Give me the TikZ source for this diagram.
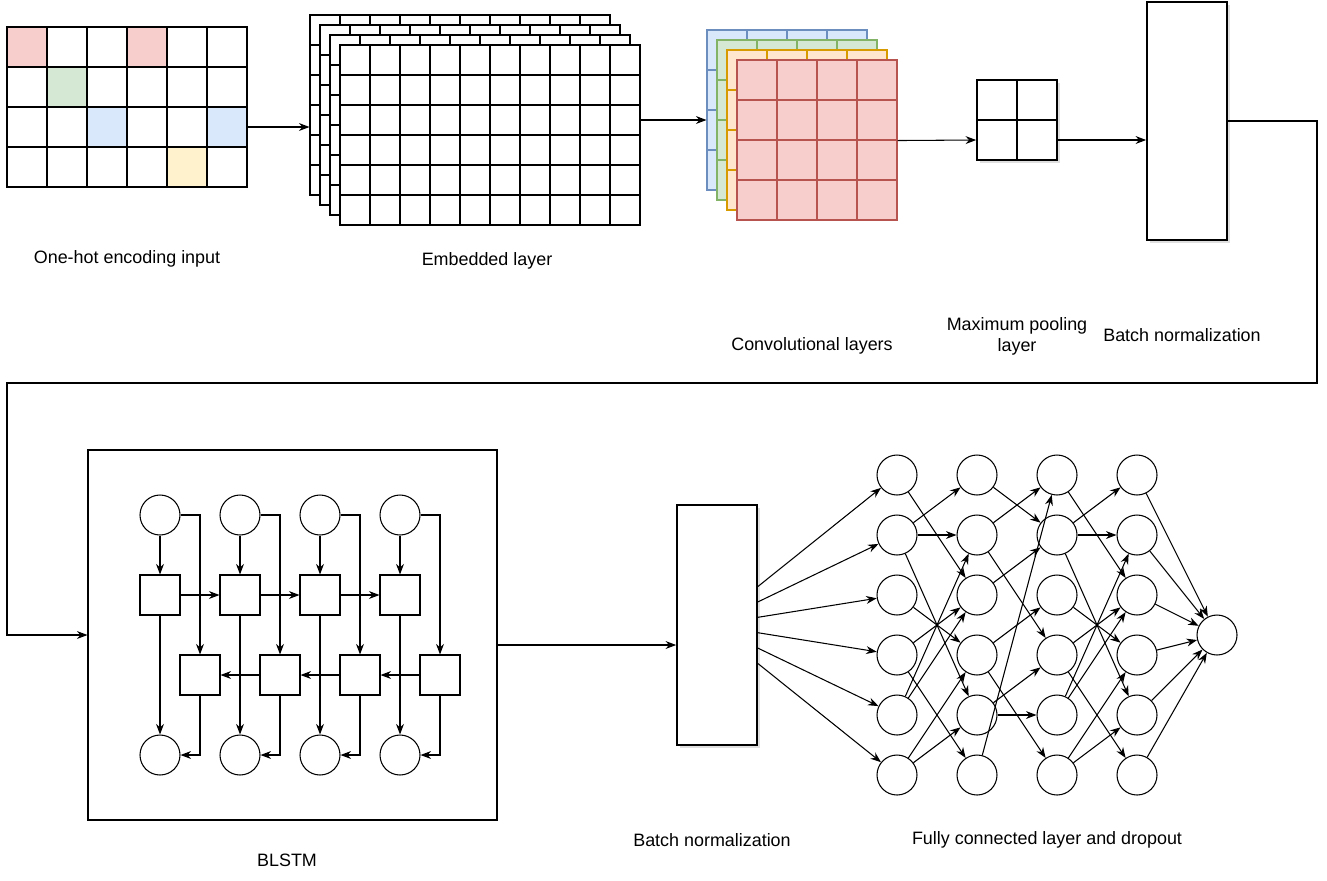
\documentclass[tikz,border=0pt]{standalone}
\usepackage{fontspec}
\setmainfont{Liberation Sans}
\usetikzlibrary{arrows.meta,shadows}
\definecolor{pinkfill}{HTML}{F8CECC}
\definecolor{greenfill}{HTML}{D5E8D4}
\definecolor{bluefill}{HTML}{DAE8FC}
\definecolor{yellowfill}{HTML}{FFF2CC}
\definecolor{orangefill}{HTML}{FFE6CC}
\definecolor{redline}{HTML}{B85450}
\definecolor{greenline}{HTML}{82B366}
\definecolor{blueline}{HTML}{6C8EBF}
\definecolor{orangeline}{HTML}{D79B00}
\def\px{0.02cm}

\begin{document}
\begin{tikzpicture}[x=\px, y=-\px,
        every node/.style={font=\fontsize{10.2}{12}\selectfont},
        cell/.style={draw, fill=white, inner sep=0pt, minimum size=#1*\px, line width=0.6pt},
        link/.style={-{Stealth[length=6pt,width=4.5pt]}, line width=0.6pt},
        neuron/.style={circle, draw, fill=white, inner sep=0pt, minimum size=40*\px, line width=0.6pt},
        unit/.style={draw, fill=white, inner sep=0pt, minimum size=40*\px, line width=0.6pt},
        sketchy/.style={draw, fill=white, inner sep=0pt, line width=1pt,
            drop shadow={shadow xshift=1.6pt, shadow yshift=-1.6pt, fill=black!25}},
        label/.style={align=center, inner sep=0pt},
        % coloured cells of the one-hot input
        hot11/.style={fill=pinkfill}, hot14/.style={fill=pinkfill},
        hot22/.style={fill=greenfill}, hot33/.style={fill=bluefill},
        hot36/.style={fill=bluefill}, hot45/.style={fill=yellowfill}]

        \useasboundingbox (0,0) rectangle (1327,880);

        % one-hot input: 4 rows of 6 cells, the coloured ones get a style of their own
        \foreach \row in {1,...,4} {
            \foreach \col in {1,...,6} {
                \node[cell=40, hot\row\col/.try] (oh-\row-\col) at (40*\col-13, 40*\row+7) {};
            }
        }

        % embedded layer: four stacked sheets, the back one first
        \foreach \k in {0,...,3} {
            \foreach \row in {1,...,6} {
                \foreach \col in {1,...,10} {
                    \node[cell=30] (emb\k-\row-\col) at (295+10*\k+30*\col, 10*\k+30*\row) {};
                }
            }
        }

        % convolutional layers: one colour per feature map
        \foreach \fillc / \linec [count=\k from 0] in {
                        bluefill/blueline, greenfill/greenline,
                        orangefill/orangeline, pinkfill/redline} {
            \foreach \row in {1,...,4} {
                \foreach \col in {1,...,4} {
                    \node[cell=40, fill=\fillc, draw=\linec] (conv\k-\row-\col)
                        at (687+10*\k+40*\col, 10+10*\k+40*\row) {};
                }
            }
        }

        % maximum pooling layer
        \foreach \row in {1,2} {
            \foreach \col in {1,2} {
                \node[sketchy, minimum size=40*\px] (pool-\row-\col) at (957+40*\col, 60+40*\row) {};
            }
        }

        % batch normalization blocks
        \node[sketchy, minimum width=80*\px, minimum height=238*\px] (bn1) at (1187,121) {};
        \node[sketchy, minimum width=80*\px, minimum height=240*\px] (bn2) at (717,625) {};

        % labels
        \node[label] (lab-oh) at (127,259) {One-hot encoding input};
        \node[label] (lab-emb) at (487,261) {Embedded layer};
        \node[label] (lab-conv) at (812,346) {Convolutional layers};
        \node[label] (lab-pool) at (1017,336) {Maximum pooling\\layer};
        \node[label] (lab-bn1) at (1182,335) {Batch normalization};
        \node[label] (lab-blstm) at (287,860) {BLSTM};
        \node[label] (lab-bn2) at (712,840) {Batch normalization};
        \node[label] (lab-fc) at (1047,840) {Fully connected layer and dropout};

        % top row connectors
        \draw[link] (oh-3-6.east) -- (oh-3-6.east -| emb0-4-1.west);
        \draw[link] (emb3-3-10.east) -- (emb3-3-10.east -| conv0-1-1.west);
        \draw[link] (conv3-2-4.south east) -- (pool-2-1.west);
        \draw[link] (pool-2-2.east) -- (pool-2-2.east -| bn1.west);

        % BLSTM block
        \node[draw, line width=0.6pt, minimum width=409*\px, minimum height=370*\px] (blstm) at (292.5,635) {};
        \coordinate (wrapR) at (1317,383);
        \coordinate (wrapL) at (7,383);
        \draw[link] (bn1.east) -| (wrapR) -- (wrapL) |- (blstm.west);

        \foreach \i in {1,...,4} {
            \node[neuron] (in\i) at (80+80*\i, 515) {};
            \node[unit] (fw\i) at (80+80*\i, 595) {};
            \node[unit] (bw\i) at (120+80*\i, 675) {};
            \node[neuron] (hid\i) at (80+80*\i, 755) {};
        }
        \foreach \i in {1,...,4} {
            \draw[link] (in\i) -- (fw\i);
            \draw[link] (in\i.east) -| (bw\i.north);
            \draw[link] (fw\i) -- (hid\i);
            \draw[link] (bw\i.south) |- (hid\i.east);
        }
        % forward chain goes right, backward chain goes left
        \foreach \i [remember=\i as \prev (initially 1)] in {2,3,4} {
            \draw[link] (fw\prev) -- (fw\i);
            \draw[link] (bw\i) -- (bw\prev);
        }

        \coordinate (blstmout) at ([yshift=-0.2cm]blstm.east);
        \draw[link] (blstmout) -- (blstmout -| bn2.west);

        % fully connected layers
        \foreach \layer in {1,...,4} {
            \foreach \r in {1,...,6} {
                \node[neuron] (fc\layer-\r) at (817+80*\layer, 415+60*\r) {};
            }
        }
        \node[neuron] (out) at (1217,635) {};

        \foreach \r in {1,...,6} {
            \pgfmathsetmacro\dy{(3.5-\r)*0.308}
            \draw[link] ([yshift=\dy cm]bn2.east) -- (fc1-\r);
        }
        % dropout leaves only some of the links
        \foreach \a / \b in {1/3, 2/1, 2/2, 2/5, 3/4, 4/3, 4/6, 5/2, 5/3, 6/4, 6/5} {
            \draw[link] (fc1-\a) -- (fc2-\b);
            \draw[link] (fc3-\a) -- (fc4-\b);
        }
        \foreach \a / \b in {1/2, 2/1, 2/4, 3/2, 4/3, 4/6, 5/4, 5/5, 6/1} {
            \draw[link] (fc2-\a) -- (fc3-\b);
        }
        \foreach \r in {1,...,6} {
            \draw[link] (fc4-\r) -- (out);
        }
    \end{tikzpicture}
\end{document}
